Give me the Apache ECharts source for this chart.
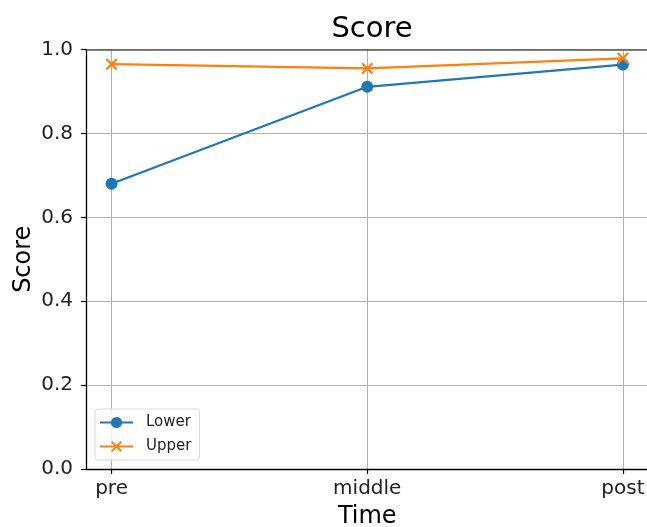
<!DOCTYPE html>
<html>
<head>
<meta charset="utf-8">
<script src="https://cdn.jsdelivr.net/npm/echarts@6/dist/echarts.min.js"></script>
<style>
  html, body { margin: 0; padding: 0; background: #fff; }
  #chart { width: 647px; height: 527px; }
</style>
</head>
<body>
<div id="chart"></div>
<script>
// Time points and the two score series
const categories = ['pre', 'middle', 'post'];
const lowerScores = [0.680, 0.911, 0.964];
const upperScores = [0.965, 0.955, 0.979];
const yTicks = [0.0, 0.2, 0.4, 0.6, 0.8, 1.0];

const FONT = 'DejaVu Sans';
const BLUE = '#1f77b4';
const ORANGE = '#ff7f0e';
// filled "x" marker outline
const X_MARK = 'path://M0,1.3L1.3,0L5,3.7L8.7,0L10,1.3L6.3,5L10,8.7L8.7,10L5,6.3L1.3,10L0,8.7L3.7,5Z';

const toPairs = arr => arr.map((v, i) => [i, v]);
const catIdx = categories.map((_, i) => i);

const chart = echarts.init(document.getElementById('chart'), null, { renderer: 'canvas' });
chart.setOption({
  animation: false,
  backgroundColor: '#fff',
  title: {
    text: 'Score',
    left: 367,
    top: 10,
    textAlign: 'center',
    textStyle: { fontFamily: FONT, fontSize: 29, fontWeight: 'normal', color: '#000' }
  },
  grid: {
    left: 86, right: -1.5, top: 49.5, bottom: 58,
    containLabel: false,
    outerBoundsMode: 'none'
  },
  legend: {
    orient: 'vertical',
    left: 95,
    top: 409,
    padding: [6, 8, 6, 4],
    itemWidth: 33,
    itemHeight: 14,
    itemGap: 9,
    borderColor: '#d8d8d8',
    borderWidth: 1,
    borderRadius: 3,
    backgroundColor: 'rgba(255,255,255,0.8)',
    textStyle: { fontFamily: FONT, fontSize: 15, color: '#222', padding: [0, 0, 0, 8] },
    data: ['Lower', 'Upper']
  },
  xAxis: [{
    type: 'value',
    min: -0.1,
    max: 2.1,
    name: 'Time',
    nameLocation: 'middle',
    nameGap: 36,
    nameMoveOverlap: false,
    nameTextStyle: { fontFamily: FONT, fontSize: 24, color: '#000' },
    axisLine: { show: true, onZero: false, lineStyle: { color: '#000', width: 1.3 } },
    axisTick: { show: true, length: 5, customValues: catIdx, lineStyle: { color: '#000', width: 1.2 } },
    axisLabel: {
      customValues: catIdx,
      margin: 10,
      fontFamily: FONT, fontSize: 20, color: '#222',
      formatter: v => categories[Math.round(v)]
    },
    splitLine: { show: true, lineStyle: { color: '#b0b0b0', width: 1 } }
  }, {
    type: 'value',
    position: 'top',
    min: -0.1,
    max: 2.1,
    axisLine: { show: true, onZero: false, lineStyle: { color: '#555', width: 1.5 } },
    axisTick: { show: false },
    axisLabel: { show: false },
    splitLine: { show: false }
  }],
  yAxis: {
    type: 'value',
    min: 0,
    max: 1,
    interval: 0.2,
    name: 'Score',
    nameLocation: 'middle',
    nameGap: 50,
    nameMoveOverlap: false,
    nameRotate: 90,
    nameTextStyle: { fontFamily: FONT, fontSize: 24, color: '#000' },
    axisLine: { show: true, onZero: false, lineStyle: { color: '#000', width: 1.3 } },
    axisTick: { show: true, length: 5, lineStyle: { color: '#000', width: 1.2 } },
    axisLabel: {
      margin: 13,
      fontFamily: FONT, fontSize: 20, color: '#222',
      formatter: v => v.toFixed(1)
    },
    splitLine: { show: true, lineStyle: { color: '#b0b0b0', width: 1 } }
  },
  series: [{
    name: 'Lower',
    type: 'line',
    data: toPairs(lowerScores),
    symbol: 'circle',
    symbolSize: 12,
    lineStyle: { color: BLUE, width: 2.2 },
    itemStyle: { color: BLUE },
    z: 3
  }, {
    name: 'Upper',
    type: 'line',
    data: toPairs(upperScores),
    symbol: X_MARK,
    symbolSize: 12,
    lineStyle: { color: ORANGE, width: 2.2 },
    itemStyle: { color: ORANGE },
    z: 4
  }]
});
</script>
</body>
</html>
